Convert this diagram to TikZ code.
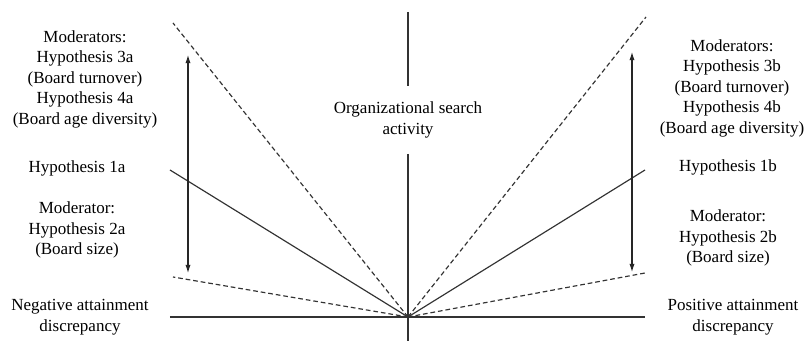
\documentclass[tikz,border=0pt]{standalone}
\usepackage{fontspec}
\setmainfont{Liberation Serif}
\usetikzlibrary{arrows.meta,positioning}

\begin{document}
\begin{tikzpicture}[
  x=0.03cm, y=0.03cm,
  font=\fontsize{14.5}{17.5}\selectfont,
  txt/.style={align=center, inner sep=0pt},
  axis/.style={line width=1pt, draw=black!80},
  effect/.style={line width=1pt, draw=black!80},
  moderated/.style={effect, dash pattern=on 4pt off 2.5pt},
  arrow/.style={-{Latex[length=7pt,width=4.5pt]}, line width=0.9pt, black!85}
]
\useasboundingbox (-408,-25) rectangle (401,317);

% axes
\coordinate (O) at (0,0);
\coordinate (vtop) at (0,305);
\coordinate (vbot) at (0,-24);
\coordinate (hleft) at (-238,0);
\coordinate (hright) at (237,0);
\node[txt, inner ysep=0.47cm] (search) at (0,197) {Organizational search\\activity};

\draw[axis] (vtop) -- (search.north);
\draw[axis] (search.south) -- (vbot);
\draw[axis] (hleft) -- (hright);

% effect lines
\coordinate (negup) at (-235,294);
\coordinate (negmain) at (-238,147);
\coordinate (neglow) at (-235,40);
\coordinate (posup) at (238,300);
\coordinate (posmain) at (237,147);
\coordinate (poslow) at (237,44);

\draw[moderated] (O) -- (negup);
\draw[effect] (O) -- (negmain);
\draw[moderated] (O) -- (neglow);
\draw[moderated] (O) -- (posup);
\draw[effect] (O) -- (posmain);
\draw[moderated] (O) -- (poslow);

% moderation arrows
\coordinate (negmid) at (-220,136);
\coordinate (negtip) at (-220,262);
\coordinate (negbot) at (-220,44);
\coordinate (posmid) at (224,139);
\coordinate (postip) at (224,265);
\coordinate (posbot) at (224,45);

\draw[arrow] (negmid) -- (negtip);
\draw[arrow] (negmid) -- (negbot);
\draw[arrow] (posmid) -- (postip);
\draw[arrow] (posmid) -- (posbot);

% labels
\node[txt] (modneg) at (-323,238) {Moderators:\\Hypothesis 3a\\(Board turnover)\\Hypothesis 4a\\(Board age diversity)};
\node[txt] (hypneg) at (-331,149) {Hypothesis 1a};
\node[txt] (sizeneg) at (-331,87) {Moderator:\\Hypothesis 2a\\(Board size)};
\node[txt] (neg) at (-328,0) {Negative attainment\\discrepancy};

\node[txt] (modpos) at (324,229) {Moderators:\\Hypothesis 3b\\(Board turnover)\\Hypothesis 4b\\(Board age diversity)};
\node[txt] (hyppos) at (320,150) {Hypothesis 1b};
\node[txt] (sizepos) at (320,79) {Moderator:\\Hypothesis 2b\\(Board size)};
\node[txt] (pos) at (325,0) {Positive attainment\\discrepancy};
\end{tikzpicture}
\end{document}
